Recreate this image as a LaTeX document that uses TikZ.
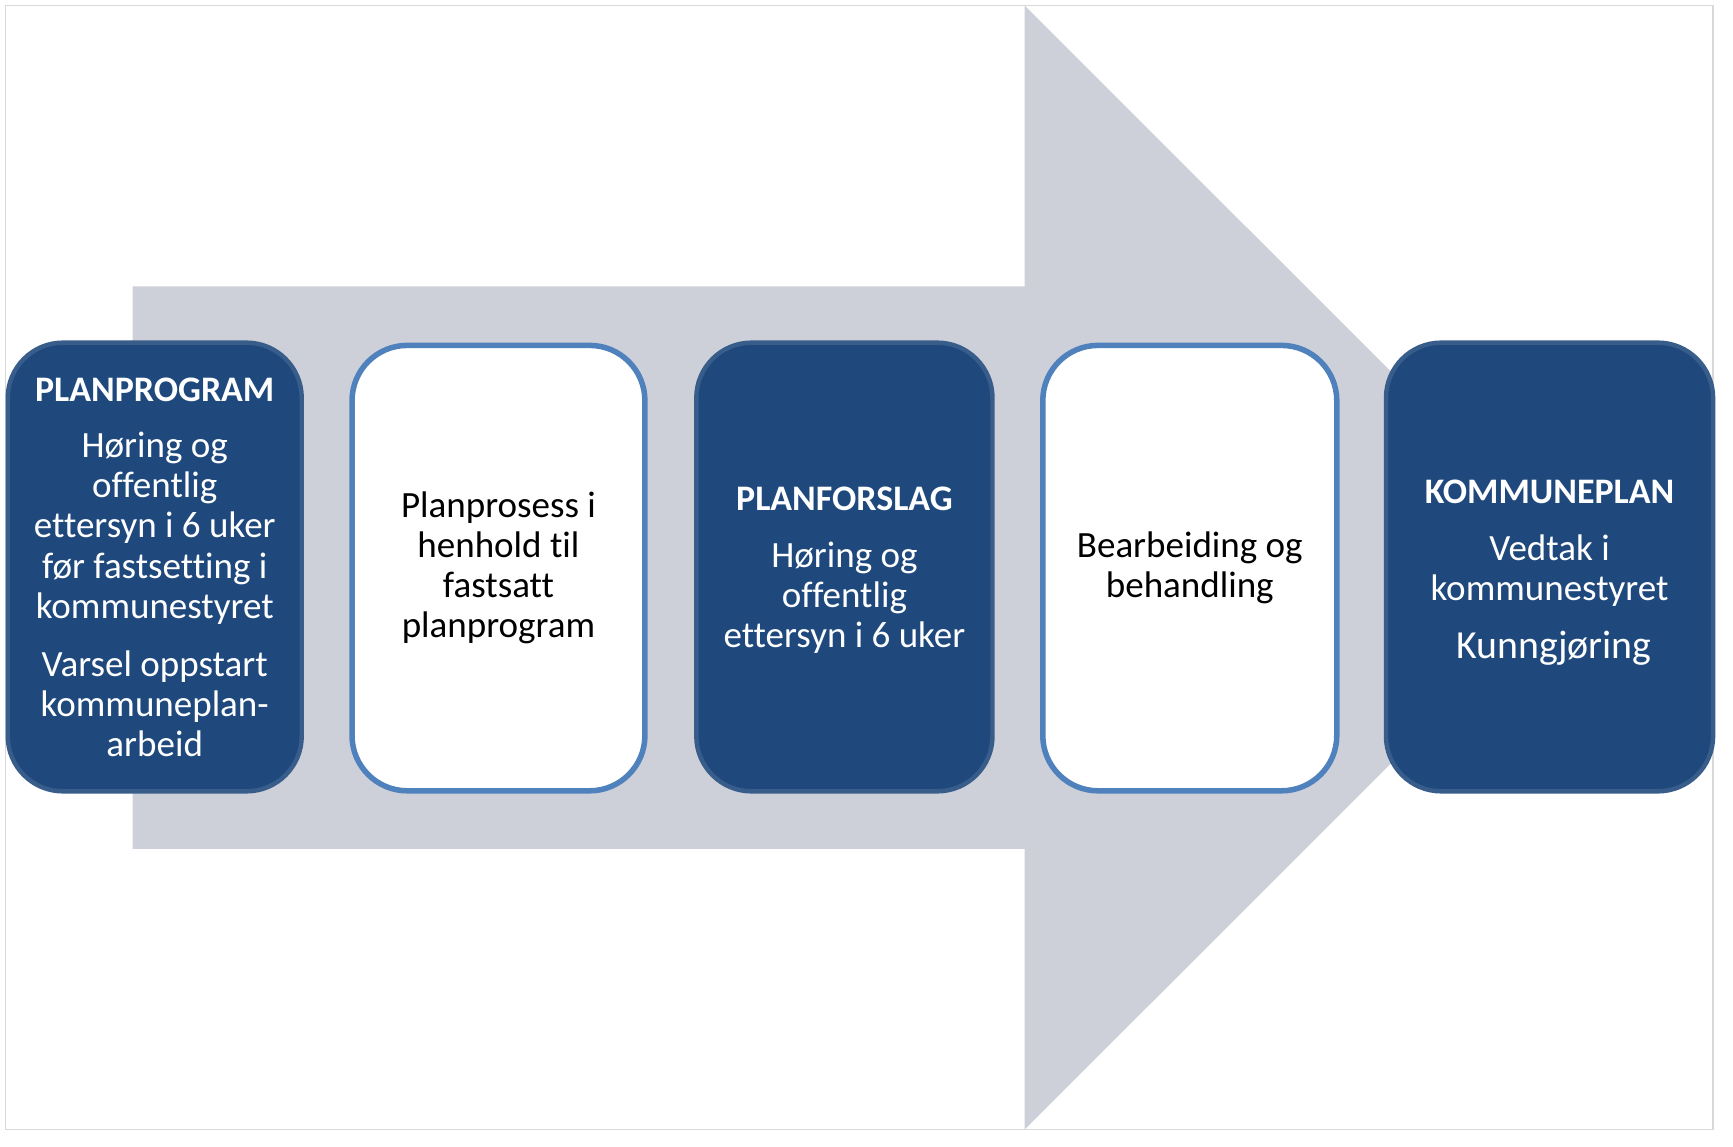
\documentclass[tikz,border=0pt]{standalone}
\usepackage{fontspec}
\setmainfont{Carlito}[Ligatures=CommonOff]
\definecolor{darkblue}{HTML}{1F497D}
\definecolor{darkedge}{HTML}{385D8A}
\definecolor{lightedge}{HTML}{4F81BD}
\definecolor{arrowgray}{HTML}{CDD0D9}
\definecolor{framegray}{HTML}{D9D9D9}
\newcommand{\boxhead}[1]{{\fontsize{32.5}{36.3}\selectfont\bfseries #1}}
\tikzset{
  darkbox/.style={draw=darkedge, fill=darkblue, line width=4pt, rounded corners=50pt, inner sep=0pt},
  whitebox/.style={draw=lightedge, fill=white, line width=5pt, rounded corners=50pt, inner sep=0pt},
  darktext/.style={text=white, align=center, font=\fontsize{33.5}{36.3}\selectfont, inner sep=0pt},
  lighttext/.style={text=black, align=center, font=\fontsize{33.5}{36.3}\selectfont, inner sep=0pt}
}
\begin{document}
\begin{tikzpicture}[x=1pt,y=-1pt]
\useasboundingbox (0,0) rectangle (1568,1037);
\fill[white] (0,0) rectangle (1568,1037);
\draw[framegray, line width=1.5pt] (5,5) rectangle (1550,1022);
\fill[arrowgray] (120,259) -- (927,259) -- (927,5) -- (1436,513.5) -- (927,1022) -- (927,768) -- (120,768) -- cycle;

\node[darkbox, minimum width=266pt, minimum height=406pt] (b1) at (140,513) {};
\node[whitebox, minimum width=265pt, minimum height=403pt] (b2) at (451,514) {};
\node[darkbox, minimum width=268pt, minimum height=406pt] (b3) at (764,513) {};
\node[whitebox, minimum width=266pt, minimum height=403pt] (b4) at (1076.5,514) {};
\node[darkbox, minimum width=296pt, minimum height=406pt] (b5) at (1402,513) {};

\node[darktext] (t1) at (b1.center) {\boxhead{PLANPROGRAM}\\[15pt]Høring og\\offentlig\\ettersyn i 6 uker\\før fastsetting i\\kommunestyret\\[16pt]Varsel oppstart\\kommuneplan-\\arbeid};
\node[lighttext] (t2) at (b2.center) {Planprosess i\\henhold til\\fastsatt\\planprogram};
\node[darktext] (t3) at ([yshift=-3pt]b3.center) {\boxhead{PLANFORSLAG}\\[15pt]Høring og\\offentlig\\ettersyn i 6 uker};
\node[lighttext] (t4) at (b4.center) {Bearbeiding og\\behandling};
\node[darktext] (t5) at ([yshift=-5pt]b5.center) {\boxhead{KOMMUNEPLAN}\\[15pt]Vedtak i\\kommunestyret\\[16pt]{\fontsize{36}{40}\selectfont\ Kunngjøring}};
\end{tikzpicture}
\end{document}
